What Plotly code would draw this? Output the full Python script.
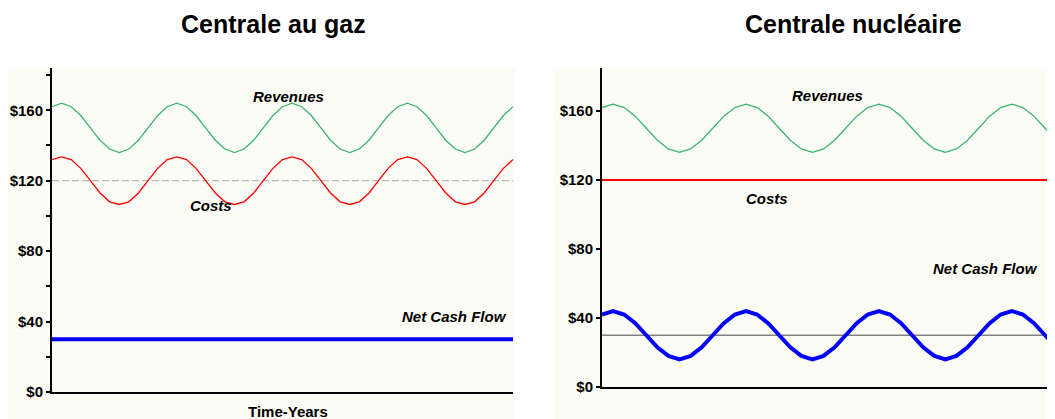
import plotly.graph_objects as go

# The page body has an 8px margin, so the figure is 8px smaller and
# reference pixel coordinates are shifted by that offset.
OFF = 8
W, H = 1055 - OFF, 419 - OFF

# ---------------- data ----------------
years = list(range(49))

revenue_gas = [
    162, 164, 162, 157, 150, 143, 138, 136, 138, 143, 150, 157,
    162, 164, 162, 157, 150, 143, 138, 136, 138, 143, 150, 157,
    162, 164, 162, 157, 150, 143, 138, 136, 138, 143, 150, 157,
    162, 164, 162, 157, 150, 143, 138, 136, 138, 143, 150, 157,
    162]
costs_gas = [
    132, 133.5, 132, 127, 120, 113, 108, 106.5, 108, 113, 120, 127,
    132, 133.5, 132, 127, 120, 113, 108, 106.5, 108, 113, 120, 127,
    132, 133.5, 132, 127, 120, 113, 108, 106.5, 108, 113, 120, 127,
    132, 133.5, 132, 127, 120, 113, 108, 106.5, 108, 113, 120, 127,
    132]
netcash_gas = [30] * 49
gas_reference = [120] * 49

revenue_nuc = [
    162, 164, 162, 157, 150, 143, 138, 136, 138, 143, 150, 157,
    162, 164, 162, 157, 150, 143, 138, 136, 138, 143, 150, 157,
    162, 164, 162, 157, 150, 143, 138, 136, 138, 143, 150, 157,
    162, 164, 162, 157, 150, 143, 138, 136, 138, 143, 150, 157,
    162]
costs_nuc = [120] * 49
netcash_nuc = [
    42, 44, 42, 37, 30, 23, 18, 16, 18, 23, 30, 37,
    42, 44, 42, 37, 30, 23, 18, 16, 18, 23, 30, 37,
    42, 44, 42, 37, 30, 23, 18, 16, 18, 23, 30, 37,
    42, 44, 42, 37, 30, 23, 18, 16, 18, 23, 30, 37,
    42]
nuc_reference = [30] * 49

gas_tickvals = [0, 20, 40, 60, 80, 100, 120, 140, 160, 180]
gas_ticktext = ["$0", "", "$40", "", "$80", "", "$120", "", "$160", ""]
nuc_tickvals = [0, 40, 80, 120, 160]
nuc_ticktext = ["$0", "$40", "$80", "$120", "$160"]

titles = ["Centrale au gaz", "Centrale nucléaire"]
x_title = "Time-Years"

# ---------------- styles ----------------
GREEN = "#3CB371"
RED = "#FF0000"
BLUE = "#0000FF"
PANEL = "#FCFCF6"
SANS = "Liberation Sans, Arial, sans-serif"


def px(x):
    return (x - OFF) / W


def py(y):
    return (419 - y) / H


fig = go.Figure()


def line(x, y, xa, ya, color, width, dash="solid"):
    fig.add_trace(go.Scatter(x=x, y=y, xaxis=xa, yaxis=ya, mode="lines",
                             line=dict(color=color, width=width, dash=dash),
                             showlegend=False, hoverinfo="skip"))


# left panel
line(years, gas_reference, "x", "y", "#A8A8A8", 1, "7px,3px")
line(years, revenue_gas, "x", "y", GREEN, 1.3)
line(years, costs_gas, "x", "y", RED, 1.3)
line(years, netcash_gas, "x", "y", BLUE, 4)

# right panel
line(years, nuc_reference, "x2", "y2", "#808080", 1.5)
line(years, revenue_nuc, "x2", "y2", GREEN, 1.3)
line(years, costs_nuc, "x2", "y2", RED, 2)
line(years, netcash_nuc, "x2", "y2", BLUE, 4)

tickfont = dict(family=SANS, size=15, color="black", weight=700)

common_x = dict(showline=True, linecolor="black", linewidth=2, showticklabels=False,
                ticks="", showgrid=False, zeroline=False, automargin=False)
common_y = dict(showline=True, linecolor="black", linewidth=2, ticks="outside",
                ticklen=4, tickwidth=2, tickcolor="black", showgrid=False,
                zeroline=False, automargin=False, tickfont=tickfont)

fig.update_layout(
    width=W, height=H, template="none",
    margin=dict(l=0, r=0, t=0, b=0),
    paper_bgcolor="white", plot_bgcolor="rgba(0,0,0,0)",
    xaxis=dict(domain=[px(52), px(513)], range=[0, 48], anchor="y", **common_x),
    yaxis=dict(domain=[py(392), py(68)], range=[0, 184], anchor="x",
               tickvals=gas_tickvals, ticktext=gas_ticktext, **common_y),
    xaxis2=dict(domain=[px(602), 1.0], range=[0, 40.9], anchor="y2", **common_x),
    yaxis2=dict(domain=[py(387), py(68)], range=[0, 184.9], anchor="x2",
                tickvals=nuc_tickvals, ticktext=nuc_ticktext, **common_y),
    shapes=[
        dict(type="rect", xref="paper", yref="paper", x0=0, x1=px(515),
             y0=0, y1=py(67), fillcolor=PANEL, line=dict(width=0), layer="below"),
        dict(type="rect", xref="paper", yref="paper", x0=px(553), x1=1.0,
             y0=0, y1=py(67), fillcolor=PANEL, line=dict(width=0), layer="below"),
    ],
)

lab = dict(family=SANS, size=15, color="black", weight=700, style="italic")
annots = [
    dict(text=titles[0], xref="paper", yref="paper", x=px(273.5), y=py(24),
         font=dict(family=SANS, size=25, color="black", weight=700)),
    dict(text=titles[1], xref="paper", yref="paper", x=px(853.5), y=py(24),
         font=dict(family=SANS, size=25, color="black", weight=700)),
    dict(text=x_title, xref="paper", yref="paper", x=px(287.5), y=py(411),
         font=dict(family=SANS, size=15, color="black", weight=700)),
    dict(text="Revenues", xref="x", yref="y", x=24.6, y=168, font=lab),
    dict(text="Costs", xref="x", yref="y", x=16.6, y=106, font=lab),
    dict(text="Net Cash Flow", xref="x", yref="y", x=41.9, y=43, font=lab),
    dict(text="Revenues", xref="x2", yref="y2", x=20.4, y=169, font=lab),
    dict(text="Costs", xref="x2", yref="y2", x=14.9, y=109, font=lab),
    dict(text="Net Cash Flow", xref="x2", yref="y2", x=34.6, y=68.4, font=lab),
]
for a in annots:
    a.update(showarrow=False, xanchor="center", yanchor="middle")
fig.update_layout(annotations=annots)

fig.write_html("out.html")
